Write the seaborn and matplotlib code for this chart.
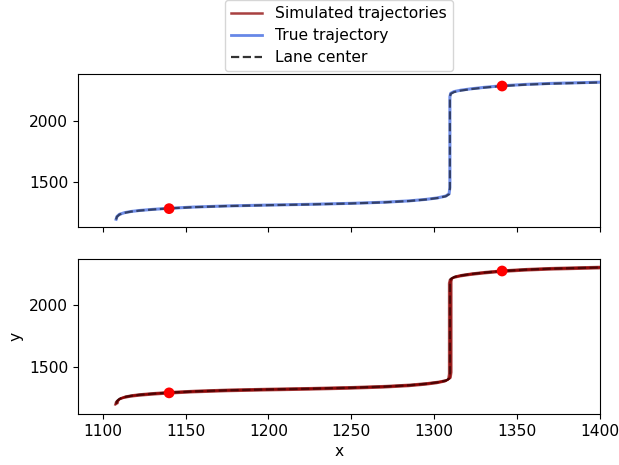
import numpy as np
import pandas as pd
import matplotlib.pyplot as plt
from matplotlib.lines import Line2D
import seaborn as sns

# lane center / true trajectory
lane_x = [1108, 1108.5, 1110, 1113, 1117, 1122, 1130, 1140, 1155, 1175, 1200, 1225,
          1250, 1270, 1285, 1295, 1302, 1307, 1309, 1309.5, 1309.5, 1309.5, 1309.5,
          1310, 1312, 1316, 1322, 1330, 1340, 1355, 1370, 1385, 1400]
lane_y = [1200, 1222, 1240, 1254, 1264, 1272, 1281, 1290, 1300, 1309, 1316, 1322,
          1330, 1339, 1350, 1362, 1374, 1388, 1405, 1450, 1700, 2000, 2190,
          2218, 2232, 2244, 2256, 2268, 2280, 2292, 2300, 2305, 2310]
true_y = [1202, 1224, 1242, 1255, 1265, 1273, 1282, 1291, 1301, 1310, 1317, 1323,
          1331, 1340, 1351, 1363, 1375, 1390, 1408, 1460, 1700, 2000, 2195,
          2222, 2236, 2247, 2258, 2270, 2282, 2294, 2302, 2307, 2312]

# simulated trajectories: small offsets from the lane center
sim_dx = [-0.6, 0.0, 0.5, 1.0]
sim_dy = [-8, -3, 2, 6]

# observed points
obs_x = [1140, 1341]
obs_y = [1288, 2281]

sim_df = pd.concat([
    pd.DataFrame({"x": np.array(lane_x) + dx, "y": np.array(lane_y) + dy, "run": i})
    for i, (dx, dy) in enumerate(zip(sim_dx, sim_dy))
])
lane_df = pd.DataFrame({"x": lane_x, "y": lane_y})
true_df = pd.DataFrame({"x": lane_x, "y": true_y})
obs_df = pd.DataFrame({"x": obs_x, "y": obs_y})

plt.rcParams["font.size"] = 11.2

fig = plt.figure(figsize=(6.19, 4.65), dpi=100)
ax1 = fig.add_axes([0.126, 0.512, 0.843, 0.329])
ax2 = fig.add_axes([0.126, 0.110, 0.843, 0.332], sharex=ax1)

# top: true trajectory
sns.lineplot(data=true_df, x="x", y="y", sort=False, estimator=None,
             color="royalblue", alpha=0.75, lw=2.2, ax=ax1)
sns.lineplot(data=lane_df, x="x", y="y", sort=False, estimator=None,
             color="black", alpha=0.55, lw=1.6, linestyle="--", ax=ax1)
sns.scatterplot(data=obs_df, x="x", y="y", color="red", s=60, edgecolor="none",
                zorder=5, ax=ax1)

# bottom: simulated trajectories
sns.lineplot(data=sim_df, x="x", y="y", units="run", sort=False, estimator=None,
             color="darkred", alpha=0.7, lw=1.5, ax=ax2)
sns.lineplot(data=lane_df, x="x", y="y", sort=False, estimator=None,
             color="black", alpha=0.45, lw=1.6, linestyle="--", ax=ax2)
sns.scatterplot(data=obs_df, x="x", y="y", color="red", s=60, edgecolor="none",
                zorder=5, ax=ax2)

ax1.set_xlim(1085, 1400)
ax1.set_ylim(1140, 2379)
ax2.set_ylim(1117, 2375)
ax1.set_yticks([1500, 2000])
ax2.set_yticks([1500, 2000])
ax2.set_xticks([1100, 1150, 1200, 1250, 1300, 1350, 1400])
ax1.tick_params(labelbottom=False)
ax1.set_xlabel("")
ax1.set_ylabel("")
ax2.set_xlabel("x")
ax2.set_ylabel("y")

handles = [
    Line2D([], [], color="darkred", alpha=0.75, lw=1.8),
    Line2D([], [], color="royalblue", alpha=0.8, lw=2),
    Line2D([], [], color="black", alpha=0.8, lw=1.6, linestyle="--"),
]
labels = ["Simulated trajectories", "True trajectory", "Lane center"]
fig.legend(handles, labels, loc="lower center", borderaxespad=0.1,
           labelspacing=0.45, bbox_to_anchor=(339 / 619, 1 - 73 / 465))

fig.savefig("out.png", dpi=100)
